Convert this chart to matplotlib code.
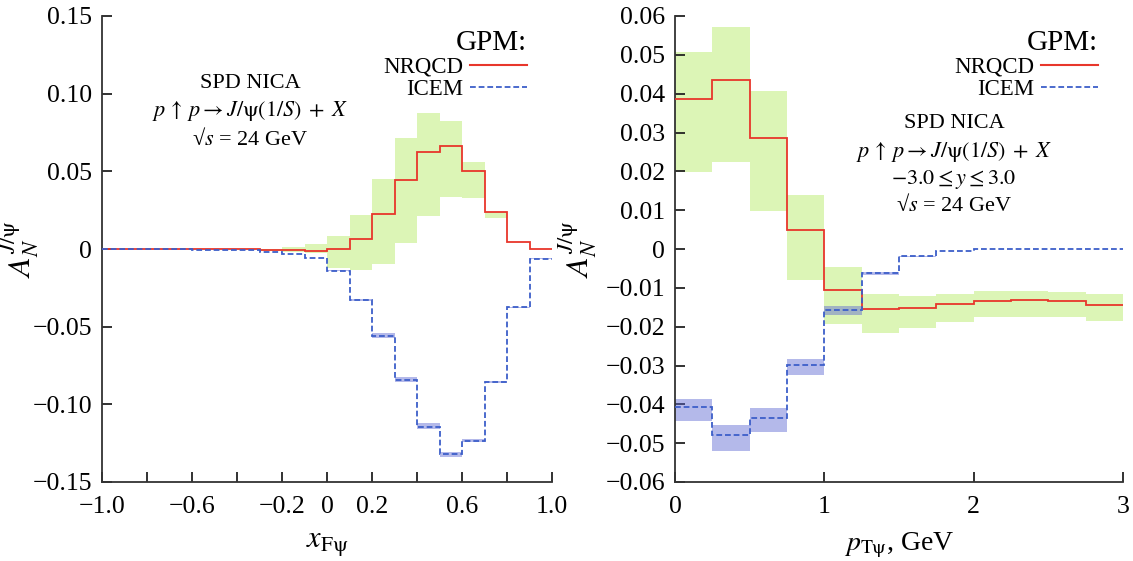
import numpy as np
import matplotlib
matplotlib.use("Agg")
import matplotlib.pyplot as plt
from matplotlib.lines import Line2D

plt.rcParams["font.family"] = ["Liberation Serif", "DejaVu Serif"]
plt.rcParams["mathtext.fontset"] = "stix"

# ---- left panel: A_N vs x_F (bins of 0.1 from -1 to 1)
xf_edges = [-1.0, -0.9, -0.8, -0.7, -0.6, -0.5, -0.4, -0.3, -0.2, -0.1, 0.0,
            0.1, 0.2, 0.3, 0.4, 0.5, 0.6, 0.7, 0.8, 0.9, 1.0]
nrqcd_xf = [0, 0, 0, 0, -0.0001, -0.0001, -0.0002, -0.0004, -0.0009, -0.0012,
            0.0003, 0.0067, 0.0223, 0.0444, 0.0626, 0.0662, 0.0500, 0.0235, 0.0043, 0.0]
nrqcd_xf_hi = [0, 0, 0, 0, -0.0001, -0.0001, -0.0001, 0.0002, 0.0011, 0.0032,
               0.0084, 0.0219, 0.0450, 0.0715, 0.0873, 0.0824, 0.0560, 0.0236, 0.0043, 0.0]
nrqcd_xf_lo = [0, 0, 0, 0, -0.0001, -0.0001, -0.0003, -0.0010, -0.0021, -0.0025,
               -0.0120, -0.0137, -0.0096, 0.0041, 0.0215, 0.0335, 0.0330, 0.0202, 0.0043, 0.0]
icem_xf = [-0.0001, -0.0001, -0.0002, -0.0003, -0.0004, -0.0006, -0.0009, -0.0019, -0.0030, -0.0060,
           -0.0140, -0.0330, -0.0558, -0.0843, -0.1144, -0.1322, -0.1234, -0.0856, -0.0376, -0.0062]
icem_xf_hi = [-0.0001, -0.0001, -0.0002, -0.0003, -0.0004, -0.0006, -0.0009, -0.0019, -0.0030, -0.0060,
              -0.0137, -0.0325, -0.0543, -0.0826, -0.1122, -0.1305, -0.1221, -0.0852, -0.0374, -0.0061]
icem_xf_lo = [-0.0001, -0.0001, -0.0002, -0.0003, -0.0004, -0.0006, -0.0009, -0.0019, -0.0030, -0.0060,
              -0.0143, -0.0335, -0.0570, -0.0858, -0.1160, -0.1340, -0.1245, -0.0860, -0.0378, -0.0063]

xf_ticks = [-1.0, -0.8, -0.6, -0.4, -0.2, 0.0, 0.2, 0.4, 0.6, 0.8, 1.0]
xf_ticklabels = ["\u22121.0", "", "\u22120.6", "", "\u22120.2", "0", "0.2", "", "0.6", "", "1.0"]
yl_ticks = [0.15, 0.10, 0.05, 0, -0.05, -0.10, -0.15]
yl_ticklabels = ["0.15", "0.10", "0.05", "0", "\u22120.05", "\u22120.10", "\u22120.15"]

# ---- right panel: A_N vs p_T (bins of 0.25 GeV from 0 to 3)
pt_edges = [0.0, 0.25, 0.5, 0.75, 1.0, 1.25, 1.5, 1.75, 2.0, 2.25, 2.5, 2.75, 3.0]
nrqcd_pt = [0.0385, 0.0434, 0.0285, 0.0049, -0.0106, -0.0155, -0.0153, -0.0141,
            -0.0133, -0.0131, -0.0135, -0.0143]
nrqcd_pt_hi = [0.0508, 0.0572, 0.0408, 0.0138, -0.0047, -0.0115, -0.0122, -0.0115,
               -0.0107, -0.0107, -0.0110, -0.0117]
nrqcd_pt_lo = [0.0197, 0.0225, 0.0099, -0.0081, -0.0192, -0.0217, -0.0204, -0.0187,
               -0.0176, -0.0174, -0.0176, -0.0186]
icem_pt = [-0.0408, -0.0480, -0.0435, -0.0299, -0.0156, -0.0063, -0.0019, -0.0004,
           -0.0001, 0.0, 0.0, 0.0]
icem_pt_hi = [-0.0385, -0.0452, -0.0410, -0.0282, -0.0147, -0.0060, -0.0018, -0.0004,
              -0.0001, 0.0, 0.0, 0.0]
icem_pt_lo = [-0.0443, -0.0520, -0.0471, -0.0325, -0.0170, -0.0066, -0.0020, -0.0004,
              -0.0001, 0.0, 0.0, 0.0]

pt_ticks = [0, 1, 2, 3]
pt_ticklabels = ["0", "1", "2", "3"]
yr_ticks = [0.06, 0.05, 0.04, 0.03, 0.02, 0.01, 0, -0.01, -0.02, -0.03, -0.04, -0.05, -0.06]
yr_ticklabels = ["0.06", "0.05", "0.04", "0.03", "0.02", "0.01", "0",
                 "\u22120.01", "\u22120.02", "\u22120.03", "\u22120.04", "\u22120.05", "\u22120.06"]

RED = "#e8362b"
BLUE = "#3d5fc9"
GREEN = "#dcf5b6"
LAVENDER = "#5a64d2"
DASH = (0, (3.2, 1.6))
REACTION = r"$p\,\uparrow\,p \rightarrow J/\mathrm{\psi}(1/S)\;+\;X$"

fig = plt.figure(figsize=(11.33, 5.61), dpi=100)
ax1 = fig.add_axes([102 / 1133, 79 / 561, 450 / 1133, 466 / 561])
ax2 = fig.add_axes([675 / 1133, 79 / 561, 448 / 1133, 466 / 561])


def draw_panel(ax, edges, nr, nr_hi, nr_lo, ic, ic_hi, ic_lo):
    ax.stairs(nr_hi, edges, baseline=nr_lo, fill=True, color=GREEN, lw=0, zorder=1)
    ax.stairs(ic_hi, edges, baseline=ic_lo, fill=True, color=LAVENDER, alpha=0.45, lw=0, zorder=2)
    ax.stairs(nr, edges, baseline=None, color=RED, lw=1.3, zorder=3)
    ax.stairs(ic, edges, baseline=None, color=BLUE, lw=1.3, linestyle=DASH, zorder=4)
    for side in ("top", "right"):
        ax.spines[side].set_visible(False)
    for side in ("left", "bottom"):
        ax.spines[side].set_color("#333333")
        ax.spines[side].set_linewidth(1.3)
    ax.tick_params(direction="in", length=7, width=1.3, color="#222222",
                   labelsize=18.5, pad=7)
    ax.tick_params(axis="x", pad=10)
    ax.legend([Line2D([], [], color=RED, lw=1.5),
               Line2D([], [], color=BLUE, lw=1.3, linestyle=DASH)],
              ["NRQCD", "ICEM"], title="GPM:", alignment="right", markerfirst=False,
              frameon=False, loc="upper right", bbox_to_anchor=(0.975, 1.0),
              fontsize=16.5, title_fontproperties={"size": 21}, handlelength=2.5,
              handletextpad=0.3, labelspacing=0.05, borderpad=0.1)


draw_panel(ax1, xf_edges, nrqcd_xf, nrqcd_xf_hi, nrqcd_xf_lo, icem_xf, icem_xf_hi, icem_xf_lo)
ax1.set_xlim(-1.0, 1.0)
ax1.set_ylim(-0.15, 0.15)
ax1.set_xticks(xf_ticks, xf_ticklabels)
ax1.set_yticks(yl_ticks, yl_ticklabels)
ax1.set_xlabel(r"$x_{\mathrm{F\psi}}$", fontsize=22, labelpad=9)
ax1.set_ylabel(r"$A_N^{J/\mathrm{\psi}}$", fontsize=23)
ax1.yaxis.set_label_coords(-0.135, 0.5)
ax1.text(0.329, 0.855, "SPD NICA", transform=ax1.transAxes, ha="center", va="center", fontsize=16)
ax1.text(0.329, 0.797, REACTION, transform=ax1.transAxes, ha="center", va="center", fontsize=16)
ax1.text(0.329, 0.737, "\u221a$s$ = 24 GeV", transform=ax1.transAxes, ha="center", va="center",
         fontsize=16)

draw_panel(ax2, pt_edges, nrqcd_pt, nrqcd_pt_hi, nrqcd_pt_lo, icem_pt, icem_pt_hi, icem_pt_lo)
ax2.set_xlim(0, 3)
ax2.set_ylim(-0.06, 0.06)
ax2.set_xticks(pt_ticks, pt_ticklabels)
ax2.set_yticks(yr_ticks, yr_ticklabels)
ax2.set_xlabel(r"$p_{\mathrm{T\psi}}$, GeV", fontsize=20, labelpad=9)
ax2.set_ylabel(r"$A_N^{J/\mathrm{\psi}}$", fontsize=23)
ax2.yaxis.set_label_coords(-0.17, 0.5)
ax2.text(0.623, 0.770, "SPD NICA", transform=ax2.transAxes, ha="center", va="center", fontsize=16)
ax2.text(0.623, 0.708, REACTION, transform=ax2.transAxes, ha="center", va="center", fontsize=16)
ax2.text(0.623, 0.650, r"$-3.0 \leq y \leq 3.0$", transform=ax2.transAxes, ha="center",
         va="center", fontsize=16)
ax2.text(0.623, 0.594, "\u221a$s$ = 24 GeV", transform=ax2.transAxes, ha="center", va="center",
         fontsize=16)

fig.savefig("out.png", dpi=100)
